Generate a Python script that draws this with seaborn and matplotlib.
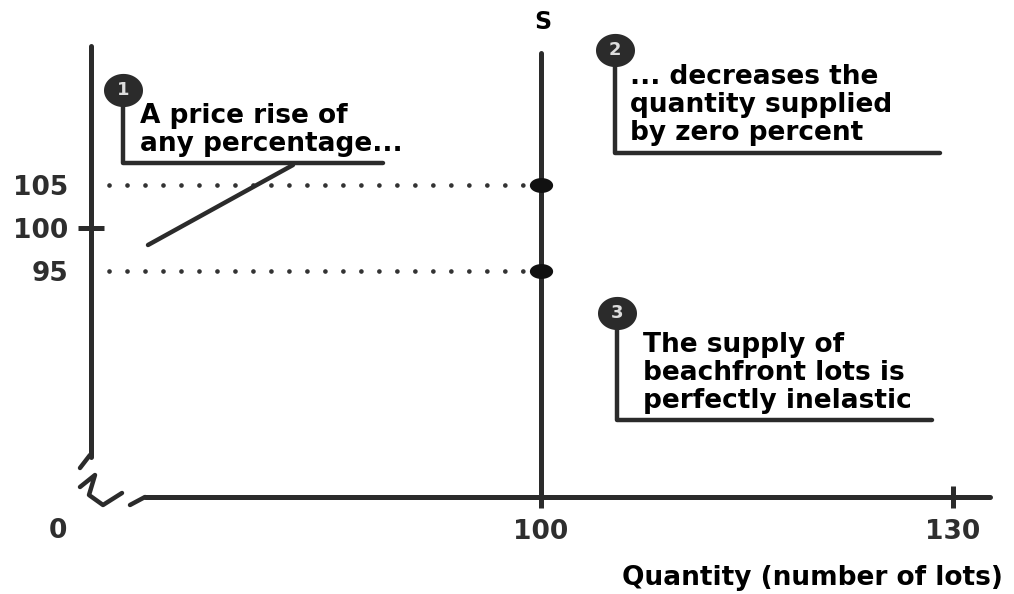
import numpy as np
import matplotlib
matplotlib.use('Agg')
import matplotlib.pyplot as plt
from matplotlib.path import Path
import seaborn as sns

# ---- data ----
supply_quantity = [100, 100]
supply_price = [68.7, 120.3]
point_quantity = [100, 100]
point_price = [105, 95]
y_tick_values = [95, 100, 105]
y_tick_labels = ['95', '100', '105']
x_tick_values = [100, 130]
x_tick_labels = ['100', '130']
origin_label = '0'
supply_label = 'S'
x_axis_title = 'Quantity (number of lots)'
note_numbers = ['1', '2', '3']
note_texts = ["A price rise of\nany percentage...",
              "... decreases the\nquantity supplied\nby zero percent",
              "The supply of\nbeachfront lots is\nperfectly inelastic"]

# ---- style ----
sns.set_style('white')
plt.rcParams['font.family'] = ['DejaVu Sans']
INK = '#2b2b2b'
LBL = '#2e2e2e'
W, H = 1014, 594
fig = plt.figure(figsize=(W / 100, H / 100), dpi=100)
L, R, T, B = 91, 990, 46, 497
ax = fig.add_axes([L / W, 1 - B / H, (R - L) / W, (B - T) / H])

XPX, X100 = 13.733, 541
YPX, Y100 = 8.6, 228


def qx(px):
    return 100 + (px - X100) / XPX


def py(pp):
    return 100 - (pp - Y100) / YPX


ax.set_xlim(qx(L), qx(R))
ax.set_ylim(py(B), py(T))


def ellipse(ratio):
    t = np.linspace(0, 2 * np.pi, 65)
    v = np.column_stack([np.cos(t), ratio * np.sin(t)])
    return Path(v, closed=True)


# spines
for s in ['top', 'right']:
    ax.spines[s].set_visible(False)
for s in ['left', 'bottom']:
    ax.spines[s].set_linewidth(3.6)
    ax.spines[s].set_color(INK)
    ax.spines[s].set_capstyle('round')
ax.spines['left'].set_bounds(py(457), py(T))
ax.spines['bottom'].set_bounds(qx(145), qx(R))

# ticks
ax.yaxis.remove_overlapping_locs = False
ax.set_yticks(y_tick_values, y_tick_labels)
ax.tick_params(axis='y', which='major', left=True, length=0, pad=16.5,
               labelsize=19, labelcolor=LBL)
ax.set_yticks([100], minor=True)
ax.tick_params(axis='y', which='minor', left=True, direction='inout',
               length=19, width=3.6, color=INK)
ax.set_xticks(x_tick_values, x_tick_labels)
ax.tick_params(axis='x', which='major', bottom=True, direction='inout',
               length=16, width=3.6, pad=8, labelsize=19, color=INK,
               labelcolor=LBL)
for lbl in ax.get_xticklabels() + ax.get_yticklabels():
    lbl.set_fontweight('bold')

ax.text(qx(58), py(531), origin_label, ha='center', va='center',
        fontsize=19, fontweight='bold', color=LBL, clip_on=False)

# axis break marks
for seg in [[(90, 455), (80, 468)],
            [(80, 487), (95, 475), (89, 495), (103, 505), (122, 493)],
            [(130, 505), (145, 497)]]:
    xs = [qx(a) for a, b in seg]
    ys = [py(b) for a, b in seg]
    ax.plot(xs, ys, color=INK, lw=3.2, solid_capstyle='round',
            solid_joinstyle='round', clip_on=False)

# dotted guide lines
for q, p in zip(point_quantity, point_price):
    ax.plot([ax.get_xlim()[0], q], [p, p], color='#333333', lw=3.4,
            ls=(0, (0.01, 3.8)), dash_capstyle='round', zorder=2)

# supply curve
sns.lineplot(x=supply_quantity, y=supply_price, estimator=None, sort=False,
             color=INK, lw=3.6, ax=ax, zorder=3)
ax.text(100.15, py(22), supply_label, ha='center', va='center', fontsize=17,
        fontweight='bold', color='black', clip_on=False)

# points
ax.scatter(point_quantity, point_price, marker=ellipse(0.64), s=280,
           color='#111111', zorder=5, linewidths=0)

# annotations
ann = [dict(c=(123, 90), cy=163, ex=383, t=(140, 130)),
       dict(c=(615, 50), cy=153, ex=940, t=(630, 105)),
       dict(c=(617, 313), cy=420, ex=932, t=(643, 373))]
for a, num, txt in zip(ann, note_numbers, note_texts):
    cx, cyy = a['c']
    ax.plot([qx(cx), qx(cx), qx(a['ex'])], [py(cyy), py(a['cy']), py(a['cy'])],
            color=INK, lw=3.2, solid_joinstyle='round', solid_capstyle='round',
            clip_on=False, zorder=3)
    ax.scatter([qx(cx)], [py(cyy)], marker=ellipse(0.85), s=790, color=INK,
               zorder=6, linewidths=0, clip_on=False)
    ax.text(qx(cx), py(cyy), num, ha='center', va='center', fontsize=13,
            fontweight='bold', color='#dddddd', zorder=7)
    ax.text(qx(a['t'][0]), py(a['t'][1]), txt, ha='left', va='center',
            fontsize=19, fontweight='bold', linespacing=1.1, color='black',
            zorder=7)

ax.plot([qx(148), qx(293)], [py(245), py(165)], color=INK, lw=3.2,
        solid_capstyle='round', zorder=3)

ax.set_xlabel(x_axis_title, fontsize=19, fontweight='bold', color='black')
ax.xaxis.set_label_coords((812 - L) / (R - L), (B - 578) / (B - T))
ax.xaxis.label.set_va('center')
ax.xaxis.label.set_ha('center')
ax.set_ylabel('')

fig.savefig('out.png', dpi=100)
